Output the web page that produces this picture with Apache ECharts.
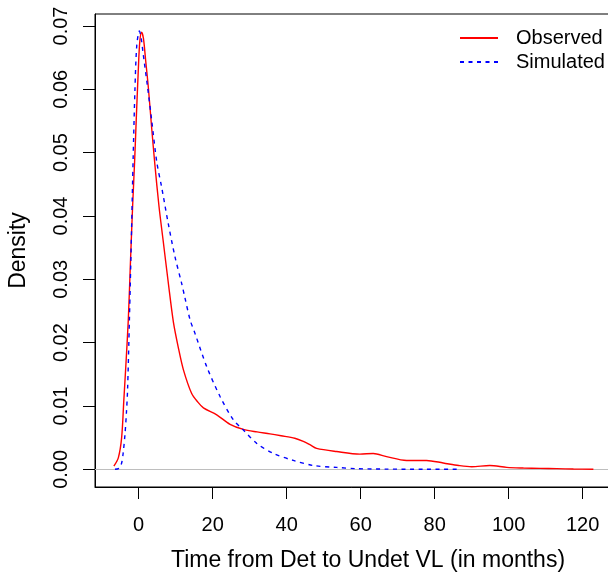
<!DOCTYPE html>
<html>
<head>
<meta charset="utf-8">
<script src="https://cdn.jsdelivr.net/npm/echarts@6/dist/echarts.min.js"></script>
<style>html,body{margin:0;padding:0;background:#fff;}#c{width:608px;height:579px;}</style>
</head>
<body>
<div id="c"></div>
<script>
// Observed density (x in months, y density)
const obsX = [-6.7,-5.5,-4.6,-4.0,-3.5,-2.8,-2.2,-1.6,-1.1,-0.6,-0.1,0.3,0.8,1.3,1.9,2.6,3.5,4.4,5.5,6.6,8.0,9.4,10.8,12.1,14.3,16.0,17.5,21.1,24.7,28.3,32,35.5,38.5,42.2,44.5,46.5,48.1,53.5,59.8,63.4,67.0,72.4,77.8,82.3,86.5,90.0,94.9,99.5,104,108.5,113,117.5,122.9];
const obsY = [0.0005,0.0018,0.0050,0.0110,0.0160,0.0236,0.0330,0.0420,0.0485,0.0560,0.0630,0.0675,0.0690,0.0680,0.0645,0.0604,0.0540,0.0480,0.0415,0.0362,0.0295,0.0232,0.0190,0.0157,0.0120,0.0106,0.0097,0.0086,0.0071,0.0063,0.0059,0.0056,0.0053,0.0049,0.0044,0.0038,0.0033,0.0028,0.0024,0.0025,0.0020,0.0014,0.0014,0.0010,0.0006,0.0004,0.0006,0.0003,0.0002,0.00015,0.0001,0.00005,0.00001];
// Simulated density
const simX = [-6.4,-5.2,-4.6,-4.2,-3.7,-3.3,-3.0,-2.5,-1.9,-1.5,-1.0,-0.5,0.2,0.7,1.2,2.4,3.5,4.9,6.2,8.0,9.8,11.6,12.5,13.9,15.2,18.4,22.0,25.6,28.3,31.9,36.4,41.8,47.2,53.5,58.9,67,77,86.4];
const simY = [0.0,0.0002,0.0010,0.0025,0.0055,0.0090,0.0125,0.0236,0.0383,0.0489,0.0600,0.0670,0.0692,0.0680,0.0657,0.0604,0.0552,0.0485,0.0446,0.0388,0.0336,0.0294,0.0271,0.0236,0.0215,0.0162,0.0115,0.0078,0.0062,0.0041,0.0025,0.0014,0.0006,0.0003,0.0001,0.00003,0.00001,0.0];
const xTicks = [0,20,40,60,80,100,120];
const yTicks = [0,0.01,0.02,0.03,0.04,0.05,0.06,0.07];
const seriesNames = ['Observed','Simulated'];

const FONT = '"Liberation Sans", Arial, Helvetica, sans-serif';
const chart = echarts.init(document.getElementById('c'), null, {renderer:'canvas'});
chart.setOption({
  animation:false,
  backgroundColor:'#fff',
  grid:{left:95, top:14, bottom:92, right:-33, outerBoundsMode:'none', containLabel:false,
        show:true, borderColor:'#000', borderWidth:1, backgroundColor:'transparent'},
  legend:{
    orient:'vertical', left:459, top:28, padding:0, itemWidth:38, itemHeight:14, itemGap:4,
    data:seriesNames,
    itemStyle:{opacity:0},
    textStyle:{fontFamily:FONT, fontSize:20, color:'#000', lineHeight:20, padding:[0,0,0,13]}
  },
  xAxis:{
    type:'value', min:-11.8, max:135.77,
    splitLine:{show:false},
    axisLine:{show:true, onZero:false, lineStyle:{color:'#000', width:1}},
    axisTick:{show:true, length:12, customValues:xTicks, lineStyle:{color:'#000', width:1}},
    axisLabel:{customValues:xTicks, margin:28, fontFamily:FONT, fontSize:20, color:'#000'},
    name:'Time from Det to Undet VL (in months)', nameLocation:'middle', nameGap:62,
    nameTextStyle:{fontFamily:FONT, fontSize:23, color:'#000'}
  },
  yAxis:{
    type:'value', min:-0.002795, max:0.07189,
    splitLine:{show:false},
    axisLine:{show:true, onZero:false, lineStyle:{color:'#000', width:1}},
    axisTick:{show:true, length:12, customValues:yTicks, lineStyle:{color:'#000', width:1}},
    axisLabel:{customValues:yTicks, rotate:90, margin:24, fontFamily:FONT, fontSize:20, color:'#000',
      formatter:v=>v.toFixed(2)},
    name:'Density', nameLocation:'middle', nameGap:65, nameRotate:90,
    nameTextStyle:{fontFamily:FONT, fontSize:23, color:'#000'}
  },
  series:[
    {name:seriesNames[0], type:'line', data:obsX.map((x,i)=>[x,obsY[i]]), showSymbol:false, symbol:'none', smooth:0.3,
     lineStyle:{color:'#ff0000', width:1.4}, itemStyle:{color:'#ff0000'}, z:3,
     markLine:{silent:true, symbol:'none', label:{show:false}, lineStyle:{color:'#bebebe', type:'solid', width:1}, data:[{yAxis:0}], z:1}},
    {name:seriesNames[1], type:'line', data:simX.map((x,i)=>[x,simY[i]]), showSymbol:false, symbol:'none', smooth:0.3,
     lineStyle:{color:'#0000ff', width:1.4, type:[4,4.5]}, itemStyle:{color:'#0000ff'}, z:4}
  ]
});
</script>
</body>
</html>
